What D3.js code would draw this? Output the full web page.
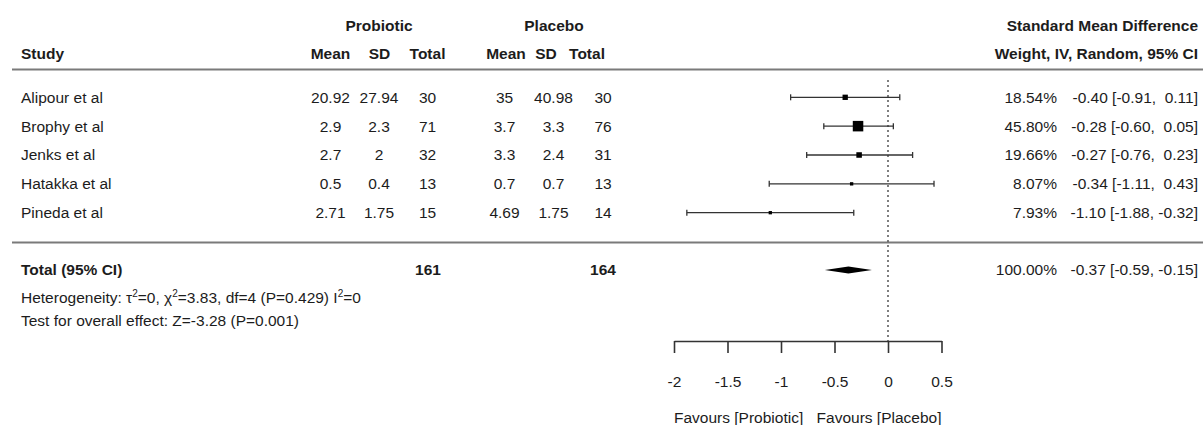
<!DOCTYPE html>
<html>
<head>
<meta charset="utf-8">
<script src="https://cdn.jsdelivr.net/npm/d3@7"></script>
<style>
  html, body { margin: 0; padding: 0; background: #fff; }
  svg text { font-family: "Liberation Sans", Arial, Helvetica, sans-serif; fill: #1c1c1c; white-space: pre; }
</style>
</head>
<body>
<svg id="chart" width="1203" height="425"></svg>
<script>
// Study-level data
const studies   = ["Alipour et al", "Brophy et al", "Jenks et al", "Hatakka et al", "Pineda et al"];
const probMean  = [20.92, 2.9, 2.7, 0.5, 2.71];
const probSD    = [27.94, 2.3, 2, 0.4, 1.75];
const probN     = [30, 71, 32, 13, 15];
const placMean  = [35, 3.7, 3.3, 0.7, 4.69];
const placSD    = [40.98, 3.3, 2.4, 0.7, 1.75];
const placN     = [30, 76, 31, 13, 14];
const smd       = [-0.40, -0.28, -0.27, -0.34, -1.10];
const ciLow     = [-0.91, -0.60, -0.76, -1.11, -1.88];
const ciHigh    = [0.11, 0.05, 0.23, 0.43, -0.32];
const weights   = [18.54, 45.80, 19.66, 8.07, 7.93];

// Pooled (random effects) result
const pooledEst = -0.37, pooledLow = -0.59, pooledHigh = -0.15, pooledWeight = 100;
const totalProb = 161, totalPlac = 164;

// Axis ticks and labels
const tickValues = [-2, -1.5, -1, -0.5, 0, 0.5];
const favourLeft = "Favours [Probiotic]";
const favourRight = "Favours [Placebo]";

const FS = 15.5;
const svg = d3.select("#chart");

const x = d3.scaleLinear().domain([-2, 0.5]).range([674, 941.5]);
const y = d3.scaleLinear().domain([0, studies.length - 1]).range([97.3, 212.7]);
const boxSize = d3.scaleLinear().domain([0, 45.8]).range([1.8, 10.5]);

const fmt = v => (v < 0 ? "" : " ") + v.toFixed(2);
const num = v => String(v);

function txt(xp, yp, s, anchor = "start", bold = false) {
  return svg.append("text")
    .attr("x", xp).attr("y", yp).attr("dy", "0.35em")
    .attr("text-anchor", anchor)
    .attr("font-size", FS)
    .attr("font-weight", bold ? "bold" : "normal")
    .text(s);
}

// Column header rows
const yH1 = 25.5, yH2 = 53.5;
txt(379, yH1, "Probiotic", "middle", true);
txt(554, yH1, "Placebo", "middle", true);
txt(1198, yH1, "Standard Mean Difference", "end", true);
txt(21, yH2, "Study", "start", true);
txt(330.5, yH2, "Mean", "middle", true);
txt(379.5, yH2, "SD", "middle", true);
txt(427.5, yH2, "Total", "middle", true);
txt(506, yH2, "Mean", "middle", true);
txt(546, yH2, "SD", "middle", true);
txt(587, yH2, "Total", "middle", true);
txt(1198, yH2, "Weight, IV, Random, 95% CI", "end", true);

// Separator rules
[69.5, 242.5].forEach(yy => {
  svg.append("line")
    .attr("x1", 12).attr("x2", 1203).attr("y1", yy).attr("y2", yy)
    .attr("stroke", "#7a7a7a").attr("stroke-width", 2.2);
});

// Study rows: table columns
studies.forEach((s, i) => {
  const yy = y(i);
  txt(21, yy, s);
  txt(330.5, yy, num(probMean[i]), "middle");
  txt(379, yy, num(probSD[i]), "middle");
  txt(427.5, yy, num(probN[i]), "middle");
  txt(504.5, yy, num(placMean[i]), "middle");
  txt(553.5, yy, num(placSD[i]), "middle");
  txt(603, yy, num(placN[i]), "middle");
  txt(1057, yy, weights[i].toFixed(2) + "%", "end");
  txt(1198, yy, `${fmt(smd[i])} [${fmt(ciLow[i])}, ${fmt(ciHigh[i])}]`, "end");
});

// Line of no effect
const yAxis = 341;
svg.append("line")
  .attr("x1", x(0)).attr("x2", x(0)).attr("y1", 80).attr("y2", yAxis)
  .attr("stroke", "#555").attr("stroke-width", 1.5).attr("stroke-dasharray", "2,3");

// Confidence intervals with end caps
const ci = svg.append("g").attr("stroke", "#333").attr("stroke-width", 1.3);
studies.forEach((s, i) => {
  const yy = y(i);
  ci.append("line").attr("x1", x(ciLow[i])).attr("x2", x(ciHigh[i])).attr("y1", yy).attr("y2", yy);
  [ciLow[i], ciHigh[i]].forEach(v => {
    ci.append("line").attr("x1", x(v)).attr("x2", x(v)).attr("y1", yy - 3).attr("y2", yy + 3);
  });
});

// Weighted point estimates
svg.append("g").selectAll("rect")
  .data(studies.map((s, i) => i))
  .join("rect")
  .attr("x", i => x(smd[i]) - boxSize(weights[i]) / 2)
  .attr("y", i => y(i) - boxSize(weights[i]) / 2)
  .attr("width", i => boxSize(weights[i]))
  .attr("height", i => boxSize(weights[i]))
  .attr("fill", "#000");

// Pooled estimate row
const yTot = 270;
txt(21, yTot, "Total (95% CI)", "start", true);
txt(428, yTot, num(totalProb), "middle", true);
txt(603, yTot, num(totalPlac), "middle", true);
txt(1057, yTot, pooledWeight.toFixed(2) + "%", "end");
txt(1198, yTot, `${fmt(pooledEst)} [${fmt(pooledLow)}, ${fmt(pooledHigh)}]`, "end");

svg.append("path")
  .attr("d", `M${x(pooledLow)},${yTot} L${x(pooledEst)},${yTot - 3.5} L${x(pooledHigh)},${yTot} L${x(pooledEst)},${yTot + 3.5} Z`)
  .attr("fill", "#000");

// Heterogeneity and overall-effect statistics
const het = svg.append("text")
  .attr("x", 21).attr("y", 297.5).attr("dy", "0.35em").attr("font-size", FS);
const sup = t => het.append("tspan").attr("font-size", 10).attr("dy", "-0.55em").text(t);
const base = t => het.append("tspan").attr("font-size", FS).attr("dy", "0.355em").text(t);
het.append("tspan").text("Heterogeneity: \u03C4");
sup("2"); base("=0, \u03C7");
sup("2"); base("=3.83, df=4 (P=0.429) I");
sup("2"); base("=0");

txt(21, 321, "Test for overall effect: Z=-3.28 (P=0.001)");

// Effect-size axis
const axis = d3.axisBottom(x)
  .tickValues(tickValues)
  .tickFormat(d => String(d))
  .tickSize(12)
  .tickSizeOuter(0)
  .tickPadding(23);
const gAxis = svg.append("g").attr("transform", `translate(0,${yAxis})`).call(axis);
gAxis.attr("font-size", null).attr("font-family", null);
gAxis.select(".domain").attr("stroke", "#333").attr("stroke-width", 1.6);
gAxis.selectAll(".tick line").attr("stroke", "#333").attr("stroke-width", 1.6);
gAxis.selectAll(".tick text").attr("font-size", FS).attr("fill", "#1c1c1c");

txt(x(-2), 418, favourLeft, "start");
txt(x(0.5), 418, favourRight, "end");
</script>
</body>
</html>
